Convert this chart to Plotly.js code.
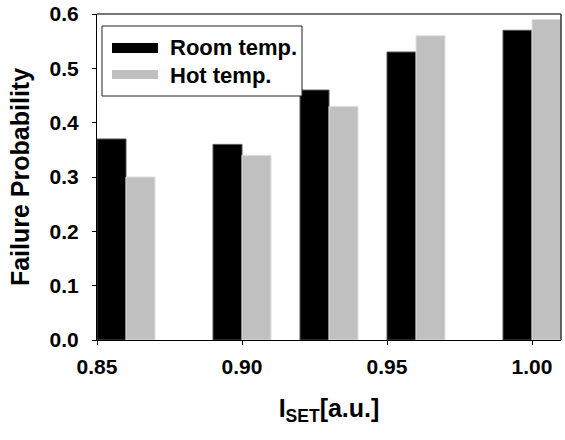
<!DOCTYPE html>
<html>
<head>
<meta charset="utf-8">
<script src="https://cdn.plot.ly/plotly-3.0.1.min.js"></script>
<style>
html,body{margin:0;padding:0;background:#fff;}
#chart{width:565px;height:440px;}
</style>
</head>
<body>
<div id="chart"></div>
<script>
// Data
var isetValues = [0.86, 0.90, 0.93, 0.96, 1.00];
var roomTemp = [0.37, 0.36, 0.46, 0.53, 0.57];
var hotTemp = [0.30, 0.34, 0.43, 0.56, 0.59];
var seriesNames = ["Room temp.", "Hot temp."];
var xTickVals = [0.85, 0.90, 0.95, 1.00];
var xTickText = ["0.85", "0.90", "0.95", "1.00"];
var yTickVals = [0.0, 0.1, 0.2, 0.3, 0.4, 0.5, 0.6];

var FONT = "Liberation Sans, Arial, Helvetica, sans-serif";
var barW = 0.01;

var traces = [
  {
    type: "bar", name: seriesNames[0], x: isetValues, y: roomTemp,
    width: barW, offset: -barW,
    marker: {color: "#000000", line: {color: "#555555", width: 1}},
    showlegend: false, hoverinfo: "x+y"
  },
  {
    type: "bar", name: seriesNames[1], x: isetValues, y: hotTemp,
    width: barW, offset: 0,
    marker: {color: "#c0c0c0", line: {color: "#e0e0e0", width: 1}},
    showlegend: false, hoverinfo: "x+y"
  }
];

// paper coords helpers for the hand-drawn legend box
function px(x){ return (x - 97) / 464; }
function py(y){ return (340 - y) / 326; }

var layout = {
  width: 565, height: 440,
  margin: {l: 97, r: 4, t: 14, b: 100},
  paper_bgcolor: "#ffffff", plot_bgcolor: "#ffffff",
  font: {family: FONT, size: 21, color: "#000000", weight: "bold"},
  barmode: "overlay",
  bargap: 0,
  xaxis: {
    range: [0.85, 1.01],
    tickmode: "array", tickvals: xTickVals, ticktext: xTickText,
    ticks: "outside", ticklen: 4, tickwidth: 1, tickcolor: "#000",
    showline: true, linecolor: "#000", linewidth: 1,
    showgrid: false, zeroline: false,
    tickfont: {family: FONT, size: 21, weight: "bold"},
    ticklabelstandoff: 4,
    title: {text: "I<sub>SET</sub>[a.u.]", font: {family: FONT, size: 25, weight: "bold"}, standoff: 22}
  },
  yaxis: {
    range: [0, 0.6],
    tickmode: "array", tickvals: yTickVals, tickformat: ".1f",
    ticks: "outside", ticklen: 4, tickwidth: 1, tickcolor: "#000",
    showline: true, linecolor: "#000", linewidth: 1,
    showgrid: false, zeroline: false,
    tickfont: {family: FONT, size: 21, weight: "bold"},
    ticklabelstandoff: 9,
    title: {text: "Failure Probability", font: {family: FONT, size: 25, weight: "bold"}, standoff: 12}
  },
  shapes: [
    {type: "line", xref: "paper", yref: "paper", x0: 0, x1: 1, y0: 1, y1: 1, line: {color: "#777777", width: 2}, layer: "above"},
    {type: "line", xref: "paper", yref: "paper", x0: 1, x1: 1, y0: 0, y1: 1, line: {color: "#333333", width: 1.5}, layer: "above"},
    {type: "rect", xref: "paper", yref: "paper", x0: px(102), x1: px(302), y0: py(96), y1: py(26),
     fillcolor: "#ffffff", line: {color: "#222222", width: 1}, layer: "above"},
    {type: "rect", xref: "paper", yref: "paper", x0: px(112), x1: px(158), y0: py(53), y1: py(43),
     fillcolor: "#000000", line: {width: 0}, layer: "above"},
    {type: "rect", xref: "paper", yref: "paper", x0: px(112), x1: px(158), y0: py(79), y1: py(70),
     fillcolor: "#c0c0c0", line: {width: 0}, layer: "above"}
  ],
  annotations: [
    {xref: "paper", yref: "paper", x: px(168), y: py(48), xanchor: "left", yanchor: "middle",
     text: seriesNames[0], showarrow: false, font: {family: FONT, size: 22, weight: "bold"}},
    {xref: "paper", yref: "paper", x: px(168), y: py(75), xanchor: "left", yanchor: "middle",
     text: seriesNames[1], showarrow: false, font: {family: FONT, size: 22, weight: "bold"}}
  ]
};

Plotly.newPlot("chart", traces, layout, {displayModeBar: false, staticPlot: true});
</script>
</body>
</html>
